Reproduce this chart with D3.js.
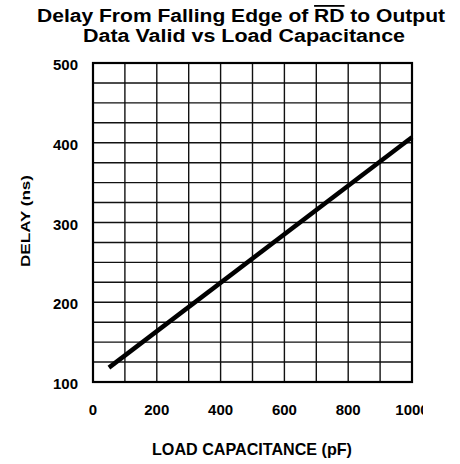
<!DOCTYPE html>
<html>
<head>
<meta charset="utf-8">
<script src="https://cdn.jsdelivr.net/npm/d3@7"></script>
<style>
	body { margin: 0; background: #fff; }
	.title { font-family: "Liberation Sans", Arial, sans-serif; font-weight: bold; font-size: 18px; }
	.tick-label { font-family: "Liberation Sans", Arial, sans-serif; font-weight: bold; font-size: 15px; }
	.axis-label { font-family: "Liberation Sans", Arial, sans-serif; font-weight: bold; font-size: 17px; }
</style>
</head>
<body>
<div id="chart"></div>
<script>
// ---------- DATA ----------
const capacitance = [50, 1000];
const delay = [118, 407];
const xTicks = [0, 200, 400, 600, 800, 1000];
const yTicks = [100, 200, 300, 400, 500];

const size = { w: 460, h: 464 };
const margin = { top: 63, right: 48, bottom: 82, left: 93 };

const svg = d3
	.select("#chart")
	.append("svg")
	.attr("width", size.w)
	.attr("height", size.h);

const xScale = d3
	.scaleLinear()
	.domain([0, 1000])
	.range([margin.left, size.w - margin.right]);
const yScale = d3
	.scaleLinear()
	.domain([100, 500])
	.range([size.h - margin.bottom, margin.top]);

// the scanned page cuts off the last tick label
svg.append("clipPath")
	.attr("id", "page-clip")
	.append("rect")
	.attr("x", 0)
	.attr("y", 0)
	.attr("width", 423)
	.attr("height", size.h);

// title
const title = svg
	.append("text")
	.classed("title", true)
	.attr("x", 37)
	.attr("y", 22)
	.attr("textLength", 408)
	.attr("lengthAdjust", "spacingAndGlyphs");
title.append("tspan").text("Delay From Falling Edge of ");
title.append("tspan").attr("text-decoration", "overline").text("RD");
title.append("tspan").text(" to Output");
svg.append("text")
	.classed("title", true)
	.attr("x", 83)
	.attr("y", 42)
	.attr("textLength", 322)
	.attr("lengthAdjust", "spacingAndGlyphs")
	.text("Data Valid vs Load Capacitance");

// grid
const grid = svg.append("g").attr("stroke", "#111").attr("stroke-width", 1.4);
grid.selectAll("line.v")
	.data(d3.range(100, 1000, 100))
	.enter()
	.append("line")
	.attr("x1", (d) => xScale(d))
	.attr("x2", (d) => xScale(d))
	.attr("y1", yScale(500))
	.attr("y2", yScale(100));
grid.selectAll("line.h")
	.data(d3.range(125, 500, 25))
	.enter()
	.append("line")
	.attr("y1", (d) => yScale(d))
	.attr("y2", (d) => yScale(d))
	.attr("x1", xScale(0))
	.attr("x2", xScale(1000));

svg.append("rect")
	.attr("x", xScale(0))
	.attr("y", yScale(500))
	.attr("width", xScale(1000) - xScale(0))
	.attr("height", yScale(100) - yScale(500))
	.attr("fill", "none")
	.attr("stroke", "#000")
	.attr("stroke-width", 2.2);

// data line
const line = d3.line().x((d, i) => xScale(capacitance[i])).y((d) => yScale(d));
svg.append("path")
	.datum(delay)
	.attr("d", line)
	.attr("fill", "none")
	.attr("stroke", "#000")
	.attr("stroke-width", 4.5);

// tick labels
svg.append("g")
	.attr("clip-path", "url(#page-clip)")
	.selectAll("text")
	.data(xTicks)
	.enter()
	.append("text")
	.classed("tick-label", true)
	.attr("x", (d) => xScale(d))
	.attr("y", 415)
	.attr("text-anchor", "middle")
	.text((d) => d);
svg.selectAll("text.yt")
	.data(yTicks)
	.enter()
	.append("text")
	.classed("tick-label", true)
	.attr("x", 78)
	.attr("y", (d) => yScale(d) + 7)
	.attr("text-anchor", "end")
	.text((d) => d);

// axis labels
svg.append("text")
	.classed("axis-label", true)
	.attr("x", 252)
	.attr("y", 455)
	.attr("text-anchor", "middle")
	.attr("textLength", 200)
	.attr("lengthAdjust", "spacingAndGlyphs")
	.text("LOAD CAPACITANCE (pF)");
svg.append("text")
	.classed("axis-label", true)
	.attr("transform", "translate(30, 221) rotate(-90)")
	.attr("text-anchor", "middle")
	.attr("textLength", 92)
	.attr("lengthAdjust", "spacingAndGlyphs")
	.style("font-size", "12px")
	.text("DELAY (ns)");
</script>
</body>
</html>
